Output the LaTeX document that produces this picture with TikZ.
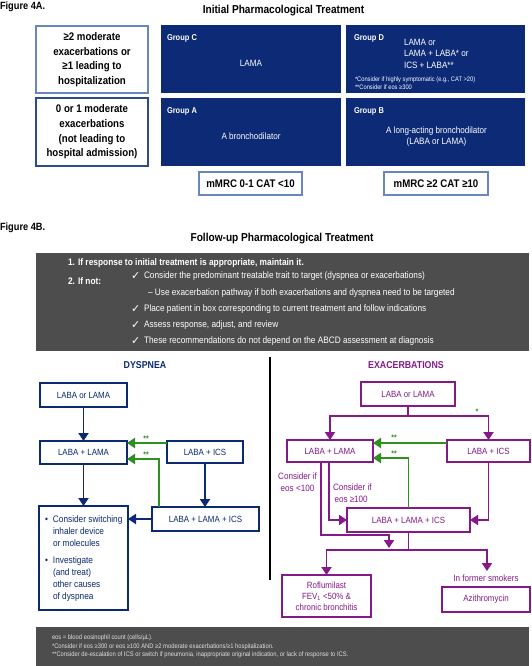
\documentclass[tikz,border=0pt]{standalone}
\usepackage{fontspec}
\setmainfont[FakeStretch=0.88]{Liberation Sans}
\newfontfamily\djv{DejaVu Sans}
\usetikzlibrary{arrows.meta}
\definecolor{navy}{HTML}{0B2A72}
\definecolor{navyfill}{HTML}{0C2A76}
\definecolor{ltblue}{HTML}{6A86C0}
\definecolor{midblue}{HTML}{2E4C8C}
\definecolor{purp}{HTML}{86198A}
\definecolor{grn}{HTML}{2F8F1F}
\definecolor{dgray}{HTML}{4D4D4D}
\newcommand\myfs[2]{\fontsize{#1}{#2}\selectfont}
\begin{document}
\begin{tikzpicture}[x=1pt,y=-1pt,
  every node/.style={inner sep=0pt, outer sep=0pt},
  figlab/.style={anchor=west, font=\bfseries\myfs{10.5}{12}},
  ttl/.style={font=\bfseries\myfs{11.5}{13}},
  lbox/.style={draw=ltblue, line width=1.2pt, fill=white, minimum width=112pt, minimum height=67pt, align=center, font=\bfseries\myfs{11}{14.6}},
  gbox/.style={fill=navyfill, minimum width=180pt, minimum height=68pt},
  glab/.style={anchor=west, text=white, font=\bfseries\myfs{8.5}{10}},
  gtxt/.style={text=white, font=\myfs{9.2}{11.5}, align=center},
  mbox/.style={draw=ltblue, line width=1.2pt, fill=white, minimum height=23pt, font=\bfseries\myfs{11}{13}},
  wtxt/.style={anchor=west, text=white, font=\myfs{9.4}{10}},
  ckm/.style={anchor=west, text=white, font=\djv\myfs{11}{11}},
  dbox/.style={draw=navy, line width=1.6pt, fill=white, text=navy, font=\myfs{9}{11}, align=center},
  pbox/.style={draw=purp, line width=1.6pt, fill=white, text=purp, font=\myfs{9}{11}, align=center},
  narr/.style={draw=navy, line width=1.9pt, -{Triangle[width=10pt,length=8pt]}},
  parr/.style={draw=purp, line width=1.9pt, -{Triangle[width=10pt,length=8pt]}},
  garr/.style={draw=grn, line width=1.9pt, -{Triangle[width=10pt,length=8pt]}},
  star/.style={text=grn, font=\bfseries\myfs{8}{8}},
  ptxt/.style={text=purp, font=\myfs{9.2}{11.5}},
]
\useasboundingbox (0,0) rectangle (531,666);
\fill[white] (0,0) rectangle (531,666);

% ---------- Figure 4A ----------
\node[figlab] (fa) at (0,7) {Figure 4A.};
\node[ttl] (ta) at (283.5,11) {Initial Pharmacological Treatment};

\node[lbox] (l1) at (92,59.5) {≥2 moderate\\exacerbations or\\≥1 leading to\\hospitalization};
\node[lbox, draw=midblue, minimum height=68pt] (l2) at (92,132) {0 or 1 moderate\\exacerbations\\(not leading to\\hospital admission)};

\node[gbox] (gc) at (251,59) {};
\node[gbox, minimum width=179pt] (gd) at (435.5,59) {};
\node[gbox] (ga) at (251,132) {};
\node[gbox, minimum width=179pt] (gb) at (435.5,132) {};

\node[glab] (gcl) at (167,38) {Group C};
\node[glab] (gdl) at (354,38) {Group D};
\node[glab] (gal) at (167,111) {Group A};
\node[glab] (gbl) at (354,111) {Group B};

\node[gtxt] (gct) at (251,63) {LAMA};
\node[gtxt, anchor=west, align=left] (gdt) at (404,53.5) {LAMA or\\LAMA + LABA* or\\ICS + LABA**};
\node[anchor=west, align=left, text=white, font=\myfs{6.5}{8.3}] (gdf) at (355,83) {*Consider if highly symptomatic (e.g., CAT >20)\\**Consider if eos ≥300};
\node[gtxt] (gat) at (251,136) {A bronchodilator};
\node[gtxt] (gbt) at (436.5,136.5) {A long-acting bronchodilator\\(LABA or LAMA)};

\node[mbox, minimum width=103pt] (m1) at (250.5,183.5) {mMRC 0-1 CAT <10};
\node[mbox, minimum width=104pt] (m2) at (436,183.5) {mMRC ≥2 CAT ≥10};

% ---------- Figure 4B ----------
\node[figlab] (fb) at (0,228) {Figure 4B.};
\node[ttl] (tb) at (282,239) {Follow-up Pharmacological Treatment};

\node[fill=dgray, minimum width=493.5pt, minimum height=98.5pt] (gray1) at (282.25,301.75) {};
\node[wtxt, font=\bfseries\myfs{9.5}{10}] (r1) at (68,263.5) {1. If response to initial treatment is appropriate, maintain it.};
\node[wtxt, font=\bfseries\myfs{9.5}{10}] (r2) at (68,281) {2. If not:};
\node[ckm] (c1) at (131,276) {✓};
\node[wtxt] (t1) at (144,276) {Consider the predominant treatable trait to target (dyspnea or exacerbations)};
\node[wtxt] (t2) at (148,292.6) {– Use exacerbation pathway if both exacerbations and dyspnea need to be targeted};
\node[ckm] (c3) at (131,309) {✓};
\node[wtxt] (t3) at (144,309) {Place patient in box corresponding to current treatment and follow indications};
\node[ckm] (c4) at (131,325.5) {✓};
\node[wtxt] (t4) at (144,325.5) {Assess response, adjust, and review};
\node[ckm] (c5) at (131,341) {✓};
\node[wtxt] (t5) at (144,341) {These recommendations do not depend on the ABCD assessment at diagnosis};

\node[text=navy, font=\bfseries\myfs{10}{12}] (hd) at (145,365) {DYSPNEA};
\node[text=purp, font=\bfseries\myfs{10}{12}] (he) at (406,365) {EXACERBATIONS};

\coordinate (dv1) at (270,357);
\coordinate (dv2) at (270,580);
\draw[line width=2pt] (dv1) -- (dv2);

% Dyspnea pathway
\node[dbox, minimum width=87pt, minimum height=24pt] (d1) at (83.5,395) {LABA or LAMA};
\node[dbox, minimum width=87pt, minimum height=23pt] (d2) at (83.5,452.5) {LABA + LAMA};
\node[dbox, minimum width=76pt, minimum height=22pt] (d3) at (205,452) {LABA + ICS};
\node[dbox, minimum width=107pt, minimum height=24pt] (d4) at (205.5,519) {LABA + LAMA + ICS};
\node[dbox, minimum width=89pt, minimum height=104pt] (d5) at (83.5,558) {};
\node[anchor=west, align=left, text=navy, font=\myfs{9.4}{12}] (d5t) at (45,559)
  {\makebox[8pt][l]{•}Consider switching\\\hspace*{8pt}inhaler device\\\hspace*{8pt}or molecules\\[5pt]
   \makebox[8pt][l]{•}Investigate\\\hspace*{8pt}(and treat)\\\hspace*{8pt}other causes\\\hspace*{8pt}of dyspnea};

\draw[narr] (d1) -- (d2);
\draw[narr] (d2) -- (d5);
\draw[narr] (d3.south) -- (d3.south |- d4.north);
\draw[narr] (d4.west) -- (d4.west -| d5.east);

\coordinate (g1) at ([yshift=-2pt]d3.north west);
\draw[garr] (g1) -- (g1 -| d2.east);
\coordinate (g2x) at (159,0);
\coordinate (gy459) at (0,459);
\coordinate (g2) at (d4.north -| g2x);
\draw[garr] (g2) |- (gy459 -| d2.east);
\node[star] (s1) at (146,438.5) {**};
\node[star] (s2) at (146,454.5) {**};

% Exacerbation pathway
\node[pbox, minimum width=94pt, minimum height=24pt] (e1) at (408,394) {LABA or LAMA};
\node[pbox, minimum width=86pt, minimum height=22pt] (e2) at (330,451) {LABA + LAMA};
\node[pbox, minimum width=83pt, minimum height=22pt] (e3) at (488.5,451) {LABA + ICS};
\node[pbox, minimum width=123pt, minimum height=24pt] (e4) at (408.5,520) {LABA + LAMA + ICS};
\node[pbox, minimum width=89pt, minimum height=42pt] (e5) at (326.5,596) {Roflumilast\\FEV\textsubscript{1} <50\% \&\\chronic bronchitis};
\node[pbox, minimum width=88pt, minimum height=25pt] (e6) at (486,599.5) {Azithromycin};
\node[ptxt] (smt) at (486,578) {In former smokers};

\coordinate (y416) at (0,416);
\coordinate (e1b) at (e1.south |- y416);
\draw[parr] (e1.south) -- (e1b) -| (e2.north);
\draw[parr] (e1b) -| (e3.north);
\node[star] (s3) at (477,411.5) {*};

\coordinate (g3) at ([yshift=-3pt]e3.north west);
\draw[garr] (g3) -- (g3 -| e2.east);
\coordinate (gy458) at (0,458);
\draw[garr] (e4.north) |- (gy458 -| e2.east);
\node[star] (s4) at (394,438) {**};
\node[star] (s5) at (394,454) {**};

\coordinate (ex1) at (321,0);
\coordinate (ex2) at (329,0);
\draw[parr] (e2.south -| ex2) |- (e4.west);
\coordinate (j1) at (389,535);
\coordinate (j2) at (389,548);
\draw[parr] (e2.south -| ex1) |- (j1) -- (j2);
\draw[parr] (e3.south) |- (e4.east);

\coordinate (y550) at (0,550);
\coordinate (e4b) at (e4.south |- y550);
\coordinate (smk) at (487,571);
\draw[parr] (e4.south) -- (e4b) -| (e5.north);
\draw[parr] (e4b) -| (smk);

\node[ptxt, align=center] (lc1) at (297.5,482) {Consider if\\eos <100};
\node[ptxt, align=left, anchor=west] (lc2) at (333,493) {Consider if\\\hspace*{1.5pt}eos ≥100};

% Footer
\node[fill=dgray, minimum width=493.5pt, minimum height=40pt] (gray2) at (282.25,647) {};
\node[anchor=west, align=left, text=white!88!black, font=\myfs{6.6}{8.5}] (fn) at (52,646.5)
  {eos = blood eosinophil count (cells/µL).\\
   *Consider if eos ≥300 or eos ≥100 AND ≥2 moderate exacerbations/≥1 hospitalization.\\
   **Consider de-escalation of ICS or switch if pneumonia, inappropriate original indication, or lack of response to ICS.};
\end{tikzpicture}
\end{document}
